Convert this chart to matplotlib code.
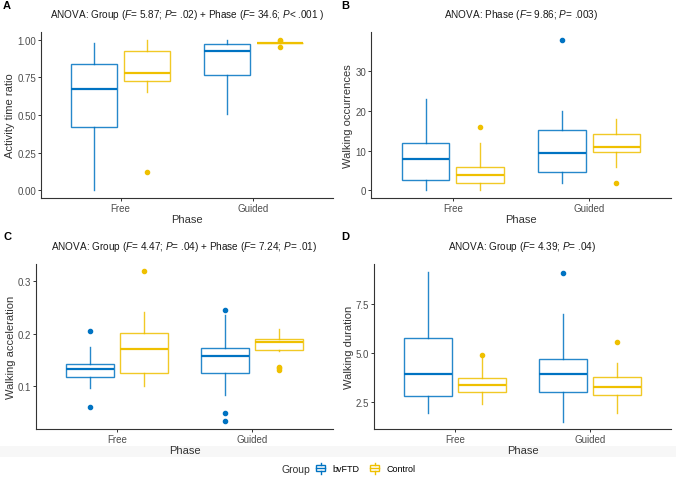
import numpy as np
import matplotlib
matplotlib.use("Agg")
import matplotlib.pyplot as plt
from matplotlib.patches import Rectangle
from matplotlib.lines import Line2D
from matplotlib.legend_handler import HandlerBase

plt.rcParams['font.family'] = ['Liberation Sans', 'DejaVu Sans']
plt.rcParams['mathtext.fontset'] = 'custom'
plt.rcParams['mathtext.it'] = 'Liberation Sans:italic'
plt.rcParams['mathtext.rm'] = 'Liberation Sans'

phases = ["Free", "Guided"]
groups = ["bvFTD", "Control"]
colors = ["#0073C2", "#EFC000"]

# order in every list: [bvFTD Free, bvFTD Guided, Control Free, Control Guided]
# A: activity time ratio
act_lo = [0.00, 0.508, 0.653, 0.975]
act_q1 = [0.42, 0.762, 0.726, 0.975]
act_med = [0.673, 0.924, 0.78, 0.978]
act_q3 = [0.835, 0.973, 0.927, 0.98]
act_hi = [0.98, 0.998, 0.998, 0.98]
act_out = [[], [], [0.12], [1.0, 0.99, 0.95]]

# B: walking occurrences
occ_lo = [0, 2, 0, 6]
occ_q1 = [2.7, 4.75, 2, 9.75]
occ_med = [8, 9.5, 4, 11]
occ_q3 = [12, 15.2, 6, 14.2]
occ_hi = [23, 20, 12, 18]
occ_out = [[], [38], [16], [2]]

# C: walking acceleration
acc_lo = [0.0955, 0.083, 0.100, 0.167]
acc_q1 = [0.1166, 0.1255, 0.125, 0.1694]
acc_med = [0.133, 0.1567, 0.1707, 0.1847]
acc_q3 = [0.142, 0.1726, 0.2013, 0.1904]
acc_hi = [0.1745, 0.2357, 0.2414, 0.2096]
acc_out = [[0.206, 0.060], [0.245, 0.049, 0.0325], [0.3185], [0.137, 0.134, 0.131]]

# D: walking duration
dur_lo = [1.97, 1.53, 2.43, 1.97]
dur_q1 = [2.82, 3.04, 3.05, 2.89]
dur_med = [3.96, 3.94, 3.40, 3.29]
dur_q3 = [5.785, 4.71, 3.77, 3.82]
dur_hi = [9.17, 6.98, 4.78, 4.49]
dur_out = [[], [9.09], [4.90], [5.60]]

W, H = 676, 485
fig = plt.figure(figsize=(W / 100, H / 100), dpi=100)

# faint band behind bottom of lower panels
fig.patches.append(Rectangle((0, 1 - 458 / H), 1, 11 / H, transform=fig.transFigure,
                             facecolor="#f7f7f7", edgecolor="none", zorder=-10))


def px_axes(l, t, r, b):
    return fig.add_axes([l / W, 1 - b / H, (r - l) / W, (b - t) / H])


def draw_panel(ax, lo, q1, med, q3, hi, out, ylabel, yticks, yfmt):
    offs = [-0.2, 0.2]
    for g in range(2):
        stats = []
        for p in range(2):
            i = g * 2 + p
            stats.append(dict(whislo=lo[i], q1=q1[i], med=med[i], q3=q3[i],
                              whishi=hi[i], fliers=out[i]))
        c = colors[g]
        ax.bxp(stats, positions=[1 + offs[g], 2 + offs[g]], widths=0.35,
               showcaps=False, patch_artist=True,
               boxprops=dict(facecolor="white", edgecolor=c, linewidth=1.0, alpha=0.85),
               whiskerprops=dict(color=c, linewidth=1.0, alpha=0.85),
               medianprops=dict(color=c, linewidth=1.6, solid_capstyle="butt"),
               flierprops=dict(marker="o", markerfacecolor=c, markeredgecolor=c,
                               markersize=3.0, linestyle="none"))
    ax.set_xlim(0.4, 2.6)
    ax.set_xticks([1, 2])
    ax.set_xticklabels(phases)
    ax.set_yticks(yticks)
    ax.set_yticklabels([yfmt.format(v) for v in yticks])
    allv = lo + hi + [v for o in out for v in o]
    lo_v, hi_v = min(allv), max(allv)
    pad = 0.05 * (hi_v - lo_v)
    ax.set_ylim(lo_v - pad, hi_v + pad)
    for s in ["top", "right"]:
        ax.spines[s].set_visible(False)
    for s in ["left", "bottom"]:
        ax.spines[s].set_color("#333333")
        ax.spines[s].set_linewidth(0.8)
    ax.tick_params(axis="both", length=2.0, width=0.7, color="#333333",
                   labelsize=7, labelcolor="#4d4d4d", pad=1.5)
    ax.set_xlabel("Phase", fontsize=8, labelpad=0.5, color="#333333")
    ax.set_ylabel(ylabel, fontsize=8, labelpad=1.5, color="#333333")


axA = px_axes(41, 33, 333, 199)
axB = px_axes(371, 33, 671, 199)
axC = px_axes(36, 265, 333, 430)
axD = px_axes(374, 265, 671, 430)

draw_panel(axA, act_lo, act_q1, act_med, act_q3, act_hi, act_out,
           "Activity time ratio", [0, 0.25, 0.5, 0.75, 1.0], "{:.2f}")
draw_panel(axB, occ_lo, occ_q1, occ_med, occ_q3, occ_hi, occ_out,
           "Walking occurrences", [0, 10, 20, 30], "{:.0f}")
draw_panel(axC, acc_lo, acc_q1, acc_med, acc_q3, acc_hi, acc_out,
           "Walking acceleration", [0.1, 0.2, 0.3], "{:.1f}")
draw_panel(axD, dur_lo, dur_q1, dur_med, dur_q3, dur_hi, dur_out,
           "Walking duration", [2.5, 5.0, 7.5], "{:.1f}")

F = r"$\mathit{F}$"
P = r"$\mathit{P}$"
titles = [
    (axA, f"ANOVA: Group ({F}= 5.87; {P}= .02) + Phase ({F}= 34.6; {P}< .001 )", 15),
    (axB, f"ANOVA: Phase ({F}= 9.86; {P}= .003)", 15),
    (axC, f"ANOVA: Group ({F}= 4.47; {P}= .04) + Phase ({F}= 7.24; {P}= .01)", 247),
    (axD, f"ANOVA: Group ({F}= 4.39; {P}= .04)", 247),
]
for ax, t, y in titles:
    pos = ax.get_position()
    fig.text((pos.x0 + pos.x1) / 2, 1 - y / H, t, ha="center", va="center",
             fontsize=7.2, color="#1a1a1a")

for lab, x, y in [("A", 7, 6), ("B", 345, 6), ("C", 7, 237), ("D", 345, 237)]:
    fig.text(x / W, 1 - y / H, lab, ha="center", va="center", fontsize=8,
             fontweight="bold")


class BoxHandler(HandlerBase):
    def create_artists(self, legend, orig_handle, xdescent, ydescent, width,
                       height, fontsize, trans):
        c = orig_handle.get_color()
        cx = width / 2 - xdescent
        bw = width * 0.7
        r = Rectangle((cx - bw / 2, -ydescent + height * 0.1), bw, height * 0.8,
                      facecolor="white", edgecolor=c, linewidth=1.0, transform=trans)
        m = Line2D([cx - bw / 2, cx + bw / 2], [height / 2 - ydescent] * 2,
                   color=c, linewidth=1.0, transform=trans)
        w1 = Line2D([cx, cx], [-ydescent - height * 0.25, -ydescent + height * 0.1],
                    color=c, linewidth=1.0, transform=trans)
        w2 = Line2D([cx, cx], [-ydescent + height * 0.9, -ydescent + height * 1.25],
                    color=c, linewidth=1.0, transform=trans)
        return [r, m, w1, w2]


handles = [Line2D([], [], color=c) for c in colors]
leg = fig.legend(handles, groups, loc="center", bbox_to_anchor=(0.54, 1 - 470 / H),
                 ncol=2, frameon=False, fontsize=6.5, handler_map={Line2D: BoxHandler()},
                 handlelength=1.4, handleheight=0.9, handletextpad=0.6,
                 columnspacing=1.0)
fig.text(310 / W, 1 - 470 / H, "Group", ha="right", va="center", fontsize=7.5,
         color="#333333")

fig.savefig("out.png", dpi=100)
